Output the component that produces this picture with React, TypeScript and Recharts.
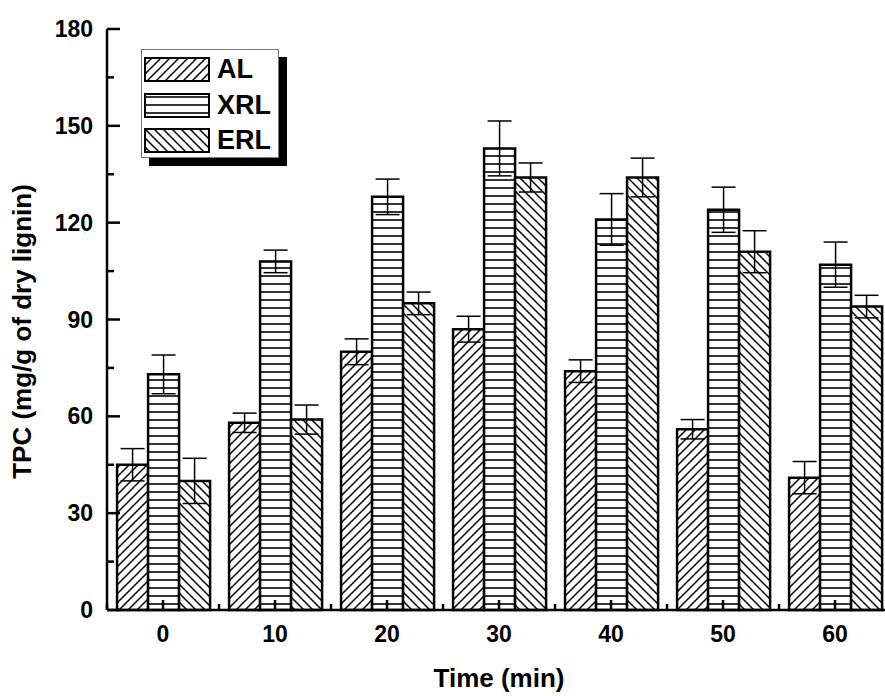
import React from "react";
import {
  BarChart,
  Bar,
  XAxis,
  YAxis,
  ErrorBar,
} from "recharts";

const times = ["0", "10", "20", "30", "40", "50", "60"];
const alValues = [45, 58, 80, 87, 74, 56, 41];
const alErrors = [5, 3, 4, 4, 3.5, 3, 5];
const xrlValues = [73, 108, 128, 143, 121, 124, 107];
const xrlErrors = [6, 3.5, 5.5, 8.5, 8, 7, 7];
const erlValues = [40, 59, 95, 134, 134, 111, 94];
const erlErrors = [7, 4.5, 3.5, 4.5, 6, 6.5, 3.5];
const yTicks = [0, 15, 30, 45, 60, 75, 90, 105, 120, 135, 150, 165, 180];

const series = [
  { key: "AL", values: alValues, errors: alErrors, pattern: "patAL" },
  { key: "XRL", values: xrlValues, errors: xrlErrors, pattern: "patXRL" },
  { key: "ERL", values: erlValues, errors: erlErrors, pattern: "patERL" },
];

const data = times.map((t, i) => ({
  time: t,
  AL: alValues[i],
  ALerr: alErrors[i],
  XRL: xrlValues[i],
  XRLerr: xrlErrors[i],
  ERL: erlValues[i],
  ERLerr: erlErrors[i],
}));

const FONT = "'Liberation Sans', Arial, sans-serif";
const CHART_W = 900;
const CHART_H = 696;
const MARGIN = { top: 29, right: 9, left: 0, bottom: 0 };
const Y_AXIS_W = 107;
const X_AXIS_H = 86;
const PLOT_W = CHART_W - MARGIN.left - MARGIN.right - Y_AXIS_W;
const BAND = PLOT_W / times.length;

function Patterns({ suffix = "" }: { suffix?: string }) {
  return (
    <defs>
      <pattern id={"patAL" + suffix} width="9" height="9" patternUnits="userSpaceOnUse">
        <rect width="9" height="9" fill="#fff" />
        <path d="M0,9 L9,0 M-2,2 L2,-2 M7,11 L11,7" stroke="#000" strokeWidth="1.5" />
      </pattern>
      <pattern id={"patXRL" + suffix} width="8" height="8" patternUnits="userSpaceOnUse">
        <rect width="8" height="8" fill="#fff" />
        <path d="M0,4 L8,4" stroke="#000" strokeWidth="1.6" />
      </pattern>
      <pattern id={"patERL" + suffix} width="9" height="9" patternUnits="userSpaceOnUse">
        <rect width="9" height="9" fill="#fff" />
        <path d="M0,0 L9,9 M-2,7 L2,11 M7,-2 L11,2" stroke="#000" strokeWidth="1.5" />
      </pattern>
    </defs>
  );
}

const YTick = (props: any) => {
  const { x, y, payload } = props;
  const major = payload.value % 30 === 0;
  return (
    <g>
      <line x1={x} x2={x + (major ? 13 : 7)} y1={y} y2={y} stroke="#000" strokeWidth={2.5} />
      {major && (
        <text
          x={x - 14}
          y={y + 8}
          textAnchor="end"
          fontFamily={FONT}
          fontWeight="bold"
          fontSize={23}
          fill="#000"
        >
          {payload.value}
        </text>
      )}
    </g>
  );
};

const XTick = (props: any) => {
  const { x, y, payload } = props;
  return (
    <g>
      <line x1={x} x2={x} y1={y} y2={y - 10} stroke="#000" strokeWidth={2.5} />
      <line x1={x - BAND / 2} x2={x - BAND / 2} y1={y} y2={y - 6} stroke="#000" strokeWidth={2.5} />
      <text
        x={x}
        y={y + 32}
        textAnchor="middle"
        fontFamily={FONT}
        fontWeight="bold"
        fontSize={23}
        fill="#000"
      >
        {payload.value}
      </text>
    </g>
  );
};

const YTitle = (props: any) => {
  const vb = props.viewBox || { x: 0, y: 29, height: 581 };
  const cx = vb.x + 31;
  const cy = vb.y + vb.height / 2 + 12;
  return (
    <text
      transform={`translate(${cx}, ${cy}) rotate(-90)`}
      textAnchor="middle"
      fontFamily={FONT}
      fontWeight="bold"
      fontSize={26}
      fill="#000"
    >
      TPC (mg/g of dry lignin)
    </text>
  );
};

const XTitle = (props: any) => {
  const vb = props.viewBox || { x: 107, y: 610, width: 784 };
  return (
    <text
      x={vb.x + vb.width / 2}
      y={vb.y + 77}
      textAnchor="middle"
      fontFamily={FONT}
      fontWeight="bold"
      fontSize={26}
      fill="#000"
    >
      Time (min)
    </text>
  );
};

function LegendBox() {
  return (
    <div
      style={{
        position: "absolute",
        left: 141,
        top: 49,
        width: 136,
        height: 107,
        border: "1px solid #777",
        background: "#fff",
        boxShadow: "8px 8px 0 #000",
        fontFamily: FONT,
        fontWeight: "bold",
        fontSize: 27,
      }}
    >
      {series.map((s, i) => (
        <div
          key={s.key}
          style={{
            position: "absolute",
            left: 2,
            top: 7 + i * 35.5,
            display: "flex",
            alignItems: "center",
            height: 25,
          }}
        >
          <svg width={66} height={25} style={{ display: "block" }}>
            <Patterns suffix="-lg" />
            <rect x={1} y={1} width={64} height={23} fill={`url(#${s.pattern}-lg)`} stroke="#000" strokeWidth={2} />
          </svg>
          <span style={{ marginLeft: 7, lineHeight: "25px" }}>{s.key}</span>
        </div>
      ))}
    </div>
  );
}

export default function App() {
  return (
    <div
      style={{
        position: "absolute",
        left: 0,
        top: 0,
        width: 885,
        height: 696,
        overflow: "hidden",
        background: "#fff",
      }}
    >
      <BarChart
        width={CHART_W}
        height={CHART_H}
        data={data}
        margin={MARGIN}
        barCategoryGap="9%"
        barGap={0}
      >
        <Patterns />
        <XAxis
          dataKey="time"
          height={X_AXIS_H}
          tickSize={0}
          tickMargin={0}
          tickLine={false}
          axisLine={{ stroke: "#000", strokeWidth: 2.5 }}
          tick={<XTick />}
          interval={0}
          label={{ content: <XTitle /> }}
        />
        <XAxis
          xAxisId="top"
          dataKey="time"
          orientation="top"
          height={0}
          tick={false}
          tickLine={false}
          axisLine={{ stroke: "#000", strokeWidth: 2.5 }}
        />
        <YAxis
          domain={[0, 180]}
          ticks={yTicks}
          width={Y_AXIS_W}
          tickSize={0}
          tickMargin={0}
          tickLine={false}
          interval={0}
          axisLine={{ stroke: "#000", strokeWidth: 2.5 }}
          tick={<YTick />}
          label={{ content: <YTitle /> }}
        />
        <YAxis
          yAxisId="right"
          orientation="right"
          domain={[0, 180]}
          width={0}
          tick={false}
          tickLine={false}
          axisLine={{ stroke: "#000", strokeWidth: 2.5 }}
        />
        {series.map((s) => (
          <Bar
            key={s.key}
            dataKey={s.key}
            fill={`url(#${s.pattern})`}
            stroke="#000"
            strokeWidth={2.5}
            isAnimationActive={false}
          >
            <ErrorBar
              dataKey={s.key + "err"}
              width={12}
              stroke="#000"
              strokeWidth={1.5}
              direction="y"
            />
          </Bar>
        ))}
      </BarChart>
      <LegendBox />
    </div>
  );
}
